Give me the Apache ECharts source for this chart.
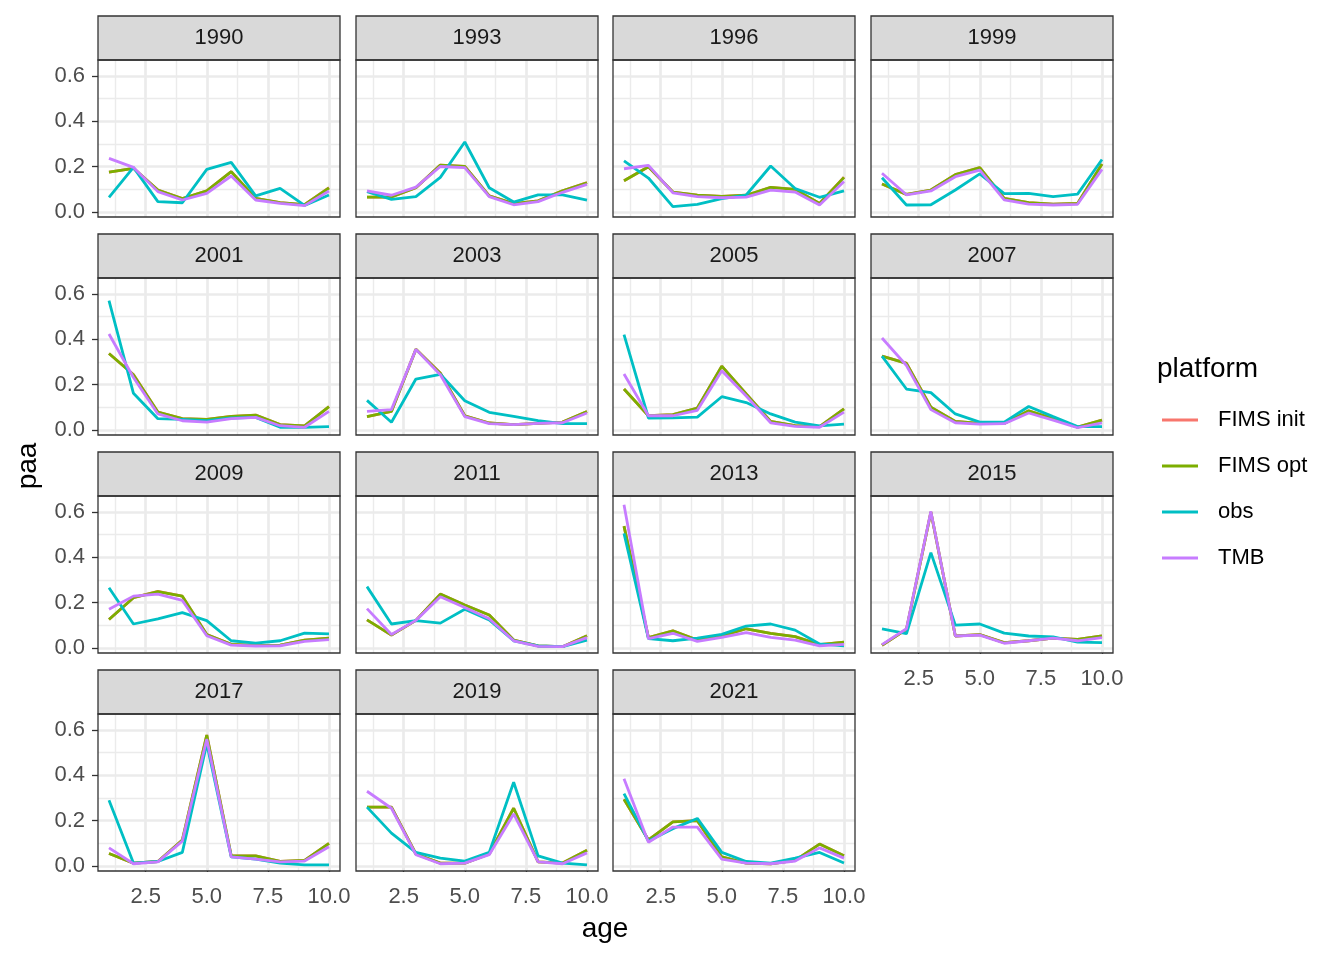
<!DOCTYPE html>
<html><head><meta charset="utf-8">
<script src="https://cdn.jsdelivr.net/npm/echarts@6.0.0/dist/echarts.min.js"></script>
<style>html,body{margin:0;padding:0;background:#fff}#c{width:1344px;height:960px}</style>
</head><body><div id="c"></div>
<script>
const years = ['1990','1993','1996','1999','2001','2003','2005','2007','2009','2011','2013','2015','2017','2019','2021'];
const ages = [1,2,3,4,5,6,7,8,9,10];
const platforms = ['FIMS init','FIMS opt','obs','TMB'];
const platformColors = ['#F8766D','#7CAE00','#00BFC4','#C77CFF'];
const xTickValues = [2.5,5,7.5,10];
const yTickValues = [0,0.2,0.4,0.6];
const xMinorValues = [1.25,3.75,6.25,8.75];
const yMinorValues = [0.1,0.3,0.5];

const fimsInit = [
 [0.176,0.193,0.097,0.059,0.093,0.178,0.060,0.041,0.032,0.108],
 [0.066,0.066,0.107,0.207,0.201,0.071,0.037,0.049,0.094,0.130],
 [0.138,0.200,0.088,0.074,0.069,0.074,0.109,0.100,0.038,0.154],
 [0.124,0.078,0.097,0.165,0.196,0.060,0.041,0.035,0.038,0.212],
 [0.338,0.245,0.079,0.050,0.047,0.060,0.066,0.024,0.018,0.103],
 [0.059,0.082,0.357,0.252,0.063,0.031,0.024,0.029,0.035,0.082],
 [0.181,0.063,0.068,0.097,0.282,0.159,0.038,0.019,0.015,0.093],
 [0.326,0.295,0.101,0.038,0.029,0.029,0.085,0.050,0.013,0.044],
 [0.126,0.222,0.250,0.229,0.060,0.016,0.012,0.013,0.035,0.044],
 [0.124,0.057,0.122,0.238,0.190,0.146,0.035,0.009,0.006,0.054],
 [0.538,0.046,0.076,0.035,0.053,0.085,0.065,0.050,0.015,0.026],
 [0.012,0.082,0.600,0.053,0.059,0.024,0.032,0.044,0.038,0.053],
 [0.055,0.013,0.020,0.115,0.578,0.045,0.045,0.020,0.025,0.100],
 [0.260,0.260,0.053,0.013,0.013,0.053,0.255,0.018,0.013,0.070],
 [0.295,0.115,0.195,0.200,0.040,0.013,0.010,0.025,0.097,0.045]
];
const fimsOpt = [
 [0.176,0.193,0.097,0.059,0.093,0.178,0.060,0.041,0.032,0.106],
 [0.066,0.066,0.107,0.207,0.201,0.071,0.037,0.049,0.094,0.129],
 [0.138,0.200,0.088,0.074,0.069,0.074,0.109,0.100,0.038,0.153],
 [0.124,0.078,0.097,0.165,0.196,0.060,0.041,0.035,0.038,0.212],
 [0.338,0.244,0.079,0.050,0.047,0.060,0.066,0.024,0.018,0.103],
 [0.059,0.082,0.356,0.251,0.063,0.031,0.024,0.029,0.035,0.082],
 [0.181,0.063,0.068,0.097,0.282,0.159,0.038,0.019,0.015,0.093],
 [0.326,0.294,0.101,0.038,0.029,0.029,0.085,0.050,0.013,0.044],
 [0.126,0.222,0.249,0.229,0.060,0.016,0.012,0.013,0.035,0.044],
 [0.124,0.057,0.122,0.238,0.190,0.146,0.035,0.009,0.006,0.054],
 [0.538,0.046,0.076,0.035,0.053,0.085,0.065,0.050,0.015,0.026],
 [0.012,0.082,0.600,0.053,0.059,0.024,0.032,0.044,0.038,0.053],
 [0.055,0.013,0.020,0.115,0.578,0.045,0.045,0.020,0.025,0.100],
 [0.260,0.260,0.053,0.013,0.013,0.053,0.255,0.018,0.013,0.070],
 [0.295,0.115,0.195,0.200,0.040,0.013,0.010,0.025,0.097,0.045]
];
const obs = [
 [0.065,0.197,0.046,0.041,0.188,0.219,0.071,0.104,0.029,0.075],
 [0.090,0.056,0.068,0.153,0.309,0.107,0.044,0.076,0.076,0.053],
 [0.226,0.150,0.024,0.034,0.059,0.075,0.203,0.104,0.065,0.093],
 [0.151,0.031,0.032,0.097,0.168,0.081,0.082,0.068,0.079,0.232],
 [0.571,0.162,0.050,0.047,0.041,0.053,0.056,0.012,0.012,0.015],
 [0.131,0.034,0.225,0.246,0.129,0.078,0.060,0.041,0.028,0.028],
 [0.421,0.053,0.054,0.057,0.147,0.121,0.071,0.035,0.018,0.026],
 [0.326,0.181,0.165,0.071,0.035,0.035,0.104,0.059,0.015,0.015],
 [0.266,0.106,0.129,0.156,0.121,0.032,0.022,0.032,0.066,0.062],
 [0.271,0.106,0.121,0.110,0.171,0.124,0.032,0.009,0.006,0.035],
 [0.506,0.041,0.032,0.044,0.060,0.097,0.106,0.079,0.018,0.010],
 [0.085,0.063,0.421,0.101,0.106,0.066,0.053,0.049,0.026,0.024],
 [0.290,0.013,0.020,0.060,0.540,0.040,0.030,0.013,0.005,0.005],
 [0.260,0.145,0.060,0.035,0.022,0.060,0.370,0.045,0.013,0.005],
 [0.320,0.110,0.165,0.210,0.060,0.020,0.013,0.035,0.060,0.013]
];
const tmb = [
 [0.237,0.197,0.090,0.053,0.082,0.159,0.053,0.038,0.028,0.093],
 [0.093,0.074,0.110,0.201,0.196,0.068,0.032,0.046,0.087,0.122],
 [0.191,0.206,0.085,0.068,0.063,0.066,0.097,0.088,0.031,0.135],
 [0.171,0.076,0.093,0.156,0.185,0.054,0.035,0.031,0.034,0.188],
 [0.424,0.232,0.071,0.041,0.035,0.050,0.056,0.019,0.012,0.082],
 [0.082,0.090,0.356,0.244,0.059,0.028,0.024,0.029,0.032,0.075],
 [0.247,0.063,0.063,0.087,0.262,0.150,0.032,0.016,0.012,0.079],
 [0.406,0.285,0.090,0.032,0.026,0.028,0.075,0.044,0.010,0.032],
 [0.171,0.229,0.238,0.210,0.054,0.013,0.009,0.010,0.029,0.037],
 [0.174,0.060,0.122,0.226,0.179,0.129,0.032,0.007,0.006,0.046],
 [0.632,0.041,0.065,0.029,0.047,0.068,0.047,0.035,0.009,0.016],
 [0.015,0.085,0.603,0.053,0.057,0.021,0.032,0.044,0.032,0.046],
 [0.080,0.010,0.018,0.110,0.560,0.040,0.030,0.018,0.022,0.085],
 [0.330,0.255,0.050,0.010,0.013,0.050,0.230,0.018,0.010,0.058],
 [0.385,0.105,0.172,0.172,0.030,0.013,0.010,0.022,0.080,0.035]
];
const seriesValues = [fimsInit, fimsOpt, obs, tmb];

const FONT = 'Liberation Sans, Arial, sans-serif';
const chart = echarts.init(document.getElementById('c'), null, {renderer:'canvas', width:1344, height:960});
const colLeft = [98, 356, 613, 871], W = 242;
const rowTop = [60, 278, 496, 714], H = 157, STRIP = 44;
const grids = [], xAxes = [], yAxes = [], series = [], graphics = [];

years.forEach((yr, i) => {
  const r = Math.floor(i / 4), c = i % 4;
  const L = colLeft[c], T = rowTop[r];
  const showX = i >= 11, showY = c === 0;
  grids.push({left: L, top: T, width: W, height: H, show: false, containLabel: false, outerBoundsMode: 'none'});
  xAxes.push({
    gridIndex: i, type: 'value', min: 0.55, max: 10.45,
    axisLine: {show: false}, splitLine: {show: false},
    axisTick: {show: showX, customValues: xTickValues, length: 6, lineStyle: {color: '#333333', width: 1.3}},
    axisLabel: {show: showX, customValues: xTickValues, formatter: v => Number(v).toFixed(1),
      color: '#4D4D4D', fontSize: 22, margin: 15, fontFamily: FONT}
  });
  yAxes.push({
    gridIndex: i, type: 'value', min: -0.022, max: 0.671,
    axisLine: {show: false}, splitLine: {show: false},
    axisTick: {show: showY, customValues: yTickValues, length: 6, lineStyle: {color: '#333333', width: 1.3}},
    axisLabel: {show: showY, customValues: yTickValues, formatter: v => Number(v).toFixed(1),
      color: '#4D4D4D', fontSize: 22, margin: 13, fontFamily: FONT}
  });
  const gl = [];
  xMinorValues.forEach(v => gl.push({xAxis: v, lineStyle: {color: '#EBEBEB', width: 1.4, type: 'solid'}}));
  yMinorValues.forEach(v => gl.push({yAxis: v, lineStyle: {color: '#EBEBEB', width: 1.4, type: 'solid'}}));
  xTickValues.forEach(v => gl.push({xAxis: v, lineStyle: {color: '#EBEBEB', width: 2.7, type: 'solid'}}));
  yTickValues.forEach(v => gl.push({yAxis: v, lineStyle: {color: '#EBEBEB', width: 2.7, type: 'solid'}}));
  series.push({
    type: 'line', name: '_grid', xAxisIndex: i, yAxisIndex: i, data: [], silent: true, z: 1,
    markLine: {silent: true, z: 1, symbol: ['none', 'none'], label: {show: false}, animation: false,
      emphasis: {disabled: true}, data: gl}
  });
  platforms.forEach((p, k) => {
    series.push({
      type: 'line', name: p, xAxisIndex: i, yAxisIndex: i, z: 2 + k,
      data: ages.map((a, j) => [a, seriesValues[k][i][j]]),
      showSymbol: false, symbol: 'none', animation: false, silent: true,
      lineStyle: {color: platformColors[k], width: 2.8}, itemStyle: {color: platformColors[k]},
      emphasis: {disabled: true}
    });
  });
  graphics.push({type: 'rect', shape: {x: L, y: T - STRIP, width: W, height: STRIP}, z: 50,
    style: {fill: '#D9D9D9', stroke: '#333333', lineWidth: 1.3}});
  graphics.push({type: 'text', x: L + W / 2, y: T - STRIP / 2, z: 51,
    style: {text: yr, fontSize: 22, fill: '#1A1A1A', fontFamily: FONT, align: 'center', verticalAlign: 'middle'}});
  graphics.push({type: 'rect', shape: {x: L, y: T, width: W, height: H}, z: 100,
    style: {fill: 'none', stroke: '#333333', lineWidth: 1.3}});
});

graphics.push({type: 'text', x: 28, y: 466, rotation: Math.PI / 2, z: 51,
  style: {text: 'paa', fontSize: 28, fill: '#000', fontFamily: FONT, align: 'center', verticalAlign: 'middle'}});
graphics.push({type: 'text', x: 605, y: 929, z: 51,
  style: {text: 'age', fontSize: 28, fill: '#000', fontFamily: FONT, align: 'center', verticalAlign: 'middle'}});
graphics.push({type: 'text', x: 1157, y: 369, z: 51,
  style: {text: 'platform', fontSize: 28, fill: '#000', fontFamily: FONT, align: 'left', verticalAlign: 'middle'}});

chart.setOption({
  animation: false,
  backgroundColor: '#ffffff',
  grid: grids, xAxis: xAxes, yAxis: yAxes, series: series,
  legend: {
    orient: 'vertical', left: 1162, top: 408, padding: 0, itemWidth: 36, itemHeight: 3, icon: 'rect',
    itemGap: 22, selectedMode: false, data: platforms,
    textStyle: {fontSize: 22, lineHeight: 24, color: '#000', fontFamily: FONT, padding: [0, 0, 0, 15]}
  },
  graphic: graphics
});
</script></body></html>
